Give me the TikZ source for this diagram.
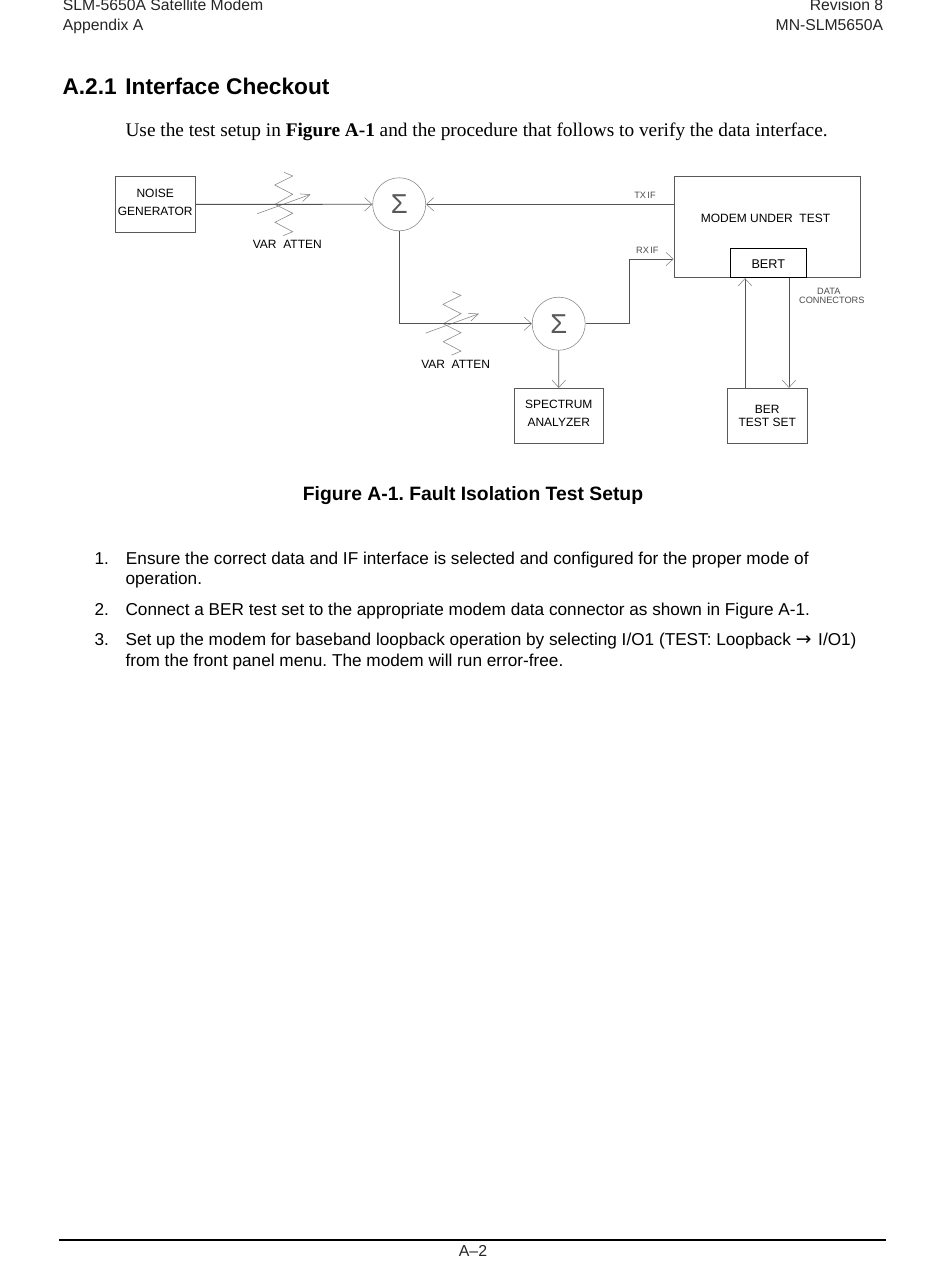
\documentclass[tikz,border=0pt]{standalone}
\usepackage{fontspec}
\usetikzlibrary{arrows.meta,calc}
\setmainfont{Liberation Sans}
\newfontfamily\timesfont{Liberation Serif}
\newfontfamily\arrowfont{DejaVu Sans}
\newcommand{\fsz}[1]{\fontsize{#1}{#1}\selectfont}
\frenchspacing
\colorlet{lineclr}{black!68}
\colorlet{barbclr}{black!50}
\tikzset{
  x=0.75pt,y=-0.75pt,
  wire/.style={draw=lineclr,line width=0.65pt},
  feed/.style={wire,-{Straight Barb[length=5.5pt,width=10pt,line width=0.4pt,color=barbclr]}},
  zig/.style={draw=black!45,line width=0.45pt},
  boxnode/.style={draw=black!65,line width=0.6pt,inner sep=0pt,align=center,font=\fsz{9},text=black},
  sumnode/.style={circle,draw=black!45,line width=0.45pt,minimum size=39.8pt,inner sep=0pt,font=\fsz{20.5},text=black!65},
  lab/.style={anchor=base,inner sep=0pt,font=\fsz{9},text=black},
  smalllab/.style={anchor=base,inner sep=0pt,font=\fsz{6.9},text=black!70},
  hdr/.style={anchor=base west,inner sep=0pt,font=\fsz{11.8},text=black!85},
  hdrr/.style={anchor=base east,inner sep=0pt,font=\fsz{11.8},text=black!85},
  body/.style={anchor=base west,inner sep=0pt,font=\fsz{12.9},text=black}
}
\newcommand{\attenpic}[3]{% name, x, y
  \coordinate (#1) at (#2,#3);
  \draw[zig] ($(#1)+(9,-32)$) -- ($(#1)+(17.7,-28.3)$) -- ($(#1)+(-0.3,-19.3)$) -- ($(#1)+(17.7,-10)$) -- (#1) -- ($(#1)+(17.7,9)$) -- ($(#1)+(0,18)$) -- ($(#1)+(17.7,27.4)$) -- ($(#1)+(8.3,31.4)$);
  \coordinate (#1a) at ($(#1)+(-17.7,9.4)$);
  \coordinate (#1b) at ($(#1)+(35.7,-10)$);
  \draw[zig,-{Straight Barb[length=7pt,width=6pt,line width=0.4pt,color=black!50]}] (#1a) -- (#1b);
}
\begin{document}
\begin{tikzpicture}
\useasboundingbox[fill=white] (0,0) rectangle (950,1267);
% page text
\node[hdr] (h1) at (62.7,11) {SLM-5650A Satellite Modem};
\node[hdr] (h2) at (62.7,30) {Appendix A};
\node[hdrr] (h3) at (883.5,11) {Revision 8};
\node[hdrr] (h4) at (883.5,30) {MN-SLM5650A};
\node[anchor=base west,inner sep=0pt,font=\bfseries\fsz{17}] (sec) at (62.3,94) {A.2.1\hspace{6.5pt}Interface Checkout};
\node[anchor=base west,inner sep=0pt,font=\timesfont\fsz{14.47}] (intro) at (125.3,136) {Use the test setup in \textbf{Figure A-1} and the procedure that follows to verify the data interface.};
% boxes
\node[boxnode,minimum width=60.2pt,minimum height=41.6pt,text depth=2.4pt] (noise) at (155.2,204.35) {NOISE\\[4.5pt]GENERATOR};
\node[sumnode] (sum1) at (399.2,204.3) {Σ};
\node[sumnode] (sum2) at (558.7,323.7) {Σ};
\node[draw=black!65,line width=0.6pt,minimum width=139.7pt,minimum height=75.7pt,inner sep=0pt] (modem) at (767.2,227.2) {};
\node[lab] (modemt) at (765.5,222.7) {MODEM UNDER\hspace{2.5pt} TEST};
\node[draw=black,line width=0.7pt,minimum width=57pt,minimum height=21.7pt,inner sep=0pt,font=\fsz{9.5},text=black,text height=8.2pt] (bert) at (768.3,263.2) {BERT};
\node[boxnode,minimum width=66.7pt,minimum height=41.5pt,text depth=3.5pt] (spec) at (558.8,416) {SPECTRUM\\[4.3pt]ANALYZER};
\node[boxnode,minimum width=60pt,minimum height=41.5pt,text depth=0pt] (ber) at (767.3,416) {BER\\[0.75pt]TEST SET};
% attenuators
\attenpic{att1}{275}{204.3}
\attenpic{att2}{443.3}{323.7}
\node[lab] (att1l) at (287.3,248) {VAR\hspace{2.5pt} ATTEN};
\node[lab] (att2l) at (455.7,368) {VAR\hspace{2.5pt} ATTEN};
% connectors
\draw[feed] (noise.east) -- (sum1.west);
\draw[feed] (modem.west |- sum1.east) -- (sum1.east);
\draw[feed] (sum1.south) |- (sum2.west);
\coordinate (rxbend) at (629.3,259);
\draw[feed] (sum2.east) -| (rxbend) -- (rxbend -| modem.west);
\draw[feed] (sum2.south) -- (spec.north);
\coordinate (upx) at (745,300);
\coordinate (dnx) at (789,300);
\draw[feed] (upx |- ber.north) -- (upx |- bert.south);
\draw[feed] (dnx |- bert.south) -- (dnx |- ber.north);
% labels
\node[smalllab] (tx) at (645,198) {TX\hspace{1pt}IF};
\node[smalllab] (rx) at (647.3,253) {RX\hspace{1pt}IF};
\node[smalllab] (dc1) at (828.8,294) {DATA};
\node[smalllab] (dc2) at (831.8,303.5) {CONNECTORS};
% caption
\node[anchor=base,inner sep=0pt,font=\bfseries\fsz{14.5}] (cap) at (473,500) {Figure A-1. Fault Isolation Test Setup};
% list
\node[body] (n1) at (94.3,564) {1.};
\node[body] (l1) at (125.7,564) {Ensure the correct data and IF interface is selected and configured for the proper mode of};
\node[body] (l1b) at (125.3,584.3) {operation.};
\node[body] (n2) at (94.3,615) {2.};
\node[body] (l2) at (125.3,615) {Connect a BER test set to the appropriate modem data connector as shown in Figure A-1.};
\node[body] (n3) at (94.3,645.7) {3.};
\node[body] (l3) at (125.3,645.7) {Set up the modem for baseband loopback operation by selecting I/O1 (TEST: Loopback {\arrowfont\fsz{14}→}\hspace{1.5pt} I/O1)};
\node[body] (l3b) at (125.3,666) {from the front panel menu. The modem will run error-free.};
% footer
\coordinate (fl) at (59,1240);
\coordinate (fr) at (886,1240);
\draw[line width=1pt] (fl) -- (fr);
\node[anchor=base,inner sep=0pt,font=\fsz{11.9},text=black!85] (foot) at (473,1256.7) {A–2};
\end{tikzpicture}
\end{document}
